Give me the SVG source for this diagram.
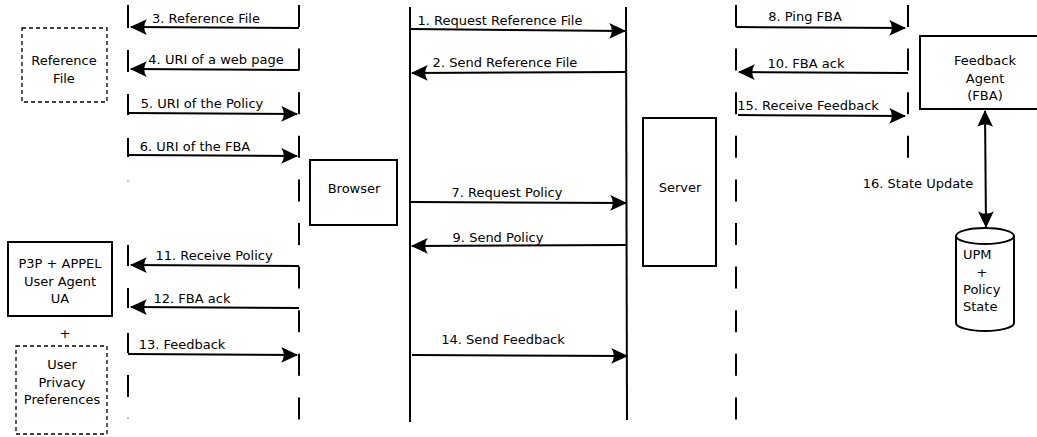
<svg xmlns="http://www.w3.org/2000/svg" width="1037" height="437" viewBox="0 0 1037 437">
<style>
text{font-family:"DejaVu Sans","Liberation Sans",sans-serif;font-size:13px;fill:#000}
.c{text-anchor:middle}
.box{fill:#fff;stroke:#000;stroke-width:2}
.dbox{fill:#fff;stroke:#000;stroke-width:1.3;stroke-dasharray:4 3}
.life{fill:none;stroke:#000;stroke-width:2}
.msg{fill:none;stroke:#000;stroke-width:2;marker-end:url(#ah)}
</style>
<defs>
<marker id="ah" markerUnits="userSpaceOnUse" markerWidth="20" markerHeight="20" viewBox="-17 -9 19 18" refX="0" refY="0" orient="auto-start-reverse">
<path d="M1,0 L-15,-7.5 Q-10,0 -15,7.5 Z" fill="#000"/>
</marker>
</defs>
<g id="lifelines">
<path class="life" d="M128,5V28M128,50V72M128,94V115M128,138V157M128,245V266M128,288V308M128,333V353M128,375V397"/>
<path d="M128,180V182M128,417V419" stroke="#888" stroke-width="1"/>
<line class="life" x1="299" y1="5" x2="299" y2="420" stroke-dasharray="22 21.6"/>
<line class="life" x1="410" y1="7" x2="410" y2="422"/>
<line class="life" x1="626" y1="7" x2="627" y2="420"/>
<line class="life" x1="736" y1="5" x2="736" y2="420" stroke-dasharray="22 21.6"/>
<line class="life" x1="908" y1="5" x2="908" y2="158" stroke-dasharray="22 21.6"/>
</g>
<g id="connectors">
<line class="msg" x1="299" y1="28" x2="131" y2="27"/>
<line class="msg" x1="299" y1="70" x2="131" y2="69"/>
<line class="msg" x1="128" y1="113" x2="297" y2="114"/>
<line class="msg" x1="128" y1="155" x2="297" y2="156"/>
<line class="msg" x1="299" y1="266" x2="131" y2="265"/>
<line class="msg" x1="299" y1="308" x2="131" y2="307"/>
<line class="msg" x1="128" y1="354" x2="297" y2="355"/>
<line class="msg" x1="410" y1="29" x2="625" y2="31"/>
<line class="msg" x1="626" y1="72" x2="412" y2="73"/>
<line class="msg" x1="411" y1="202" x2="626" y2="203"/>
<line class="msg" x1="626" y1="245" x2="412" y2="246"/>
<line class="msg" x1="412" y1="355" x2="627" y2="356"/>
<line class="msg" x1="736" y1="27" x2="905" y2="28"/>
<line class="msg" x1="908" y1="73" x2="739" y2="72"/>
<line class="msg" x1="738" y1="115" x2="905" y2="116"/>
<line class="msg" x1="985" y1="111" x2="986" y2="227" style="marker-start:url(#ah)"/>
<text class="c" x="206" y="23">3. Reference File</text>
<text class="c" x="216" y="64">4. URI of a web page</text>
<text class="c" x="202" y="108">5. URI of the Policy</text>
<text class="c" x="195" y="151">6. URI of the FBA</text>
<text class="c" x="214" y="260">11. Receive Policy</text>
<text class="c" x="192" y="303">12. FBA ack</text>
<text class="c" x="182" y="349">13. Feedback</text>
<text class="c" x="500" y="25">1. Request Reference File</text>
<text class="c" x="505" y="67">2. Send Reference File</text>
<text class="c" x="507" y="197">7. Request Policy</text>
<text class="c" x="498" y="242">9. Send Policy</text>
<text class="c" x="503" y="344">14. Send Feedback</text>
<text class="c" x="805" y="21">8. Ping FBA</text>
<text class="c" x="806" y="68">10. FBA ack</text>
<text class="c" x="808" y="110">15. Receive Feedback</text>
<text class="c" x="918" y="188">16. State Update</text>
</g>
<g id="reference-file">
<rect class="dbox" x="22" y="28" width="85" height="74"/>
<text class="c" x="64" y="65">Reference</text>
<text class="c" x="64" y="83">File</text>
</g>
<g id="browser">
<rect class="box" x="310" y="160" width="87" height="65"/>
<text class="c" x="354" y="193">Browser</text>
</g>
<g id="server">
<rect class="box" x="643" y="118" width="73" height="148"/>
<text class="c" x="680" y="192">Server</text>
</g>
<g id="fba">
<rect class="box" x="920" y="36" width="130" height="73"/>
<text class="c" x="985" y="65">Feedback</text>
<text class="c" x="985" y="83">Agent</text>
<text class="c" x="985" y="100">(FBA)</text>
</g>
<g id="user-agent">
<rect class="box" x="8" y="242" width="104" height="74"/>
<text class="c" x="60" y="268">P3P + APPEL</text>
<text class="c" x="60" y="286">User Agent</text>
<text class="c" x="60" y="303">UA</text>
</g>
<g id="plus">
<text class="c" x="65" y="338">+</text>
</g>
<g id="user-privacy">
<rect class="dbox" x="16" y="346" width="91" height="88"/>
<text class="c" x="62" y="369">User</text>
<text class="c" x="62" y="387">Privacy</text>
<text class="c" x="62" y="404">Preferences</text>
</g>
<g id="upm">
<path class="box" d="M956,236V323A29,8 0 0 0 1014,323V236"/>
<ellipse class="box" cx="985" cy="236" rx="29" ry="8"/>
<text x="963" y="259">UPM</text>
<text class="c" x="982" y="277">+</text>
<text x="963" y="294">Policy</text>
<text x="963" y="311">State</text>
</g>
</svg>
